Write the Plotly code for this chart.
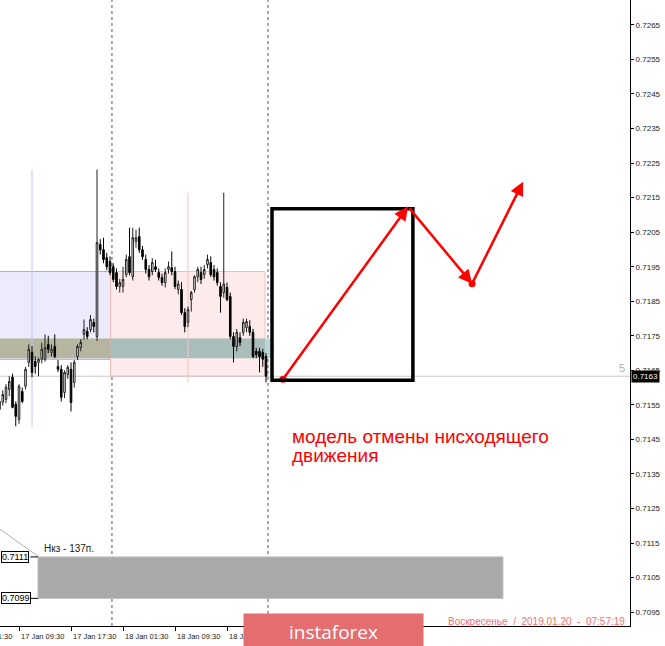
import plotly.graph_objects as go

# M30 bars, index 0 = 17 Jan 09:30
bars = list(range(-6, 77))

opens = [0.71537, 0.71558, 0.71566, 0.71595, 0.71630, 0.71552, 0.71508, 0.71589, 0.71604, 0.71673,
         0.71702, 0.71676, 0.71673, 0.71682, 0.71682, 0.71725, 0.71702, 0.71719, 0.71661, 0.71653,
         0.71586, 0.71638, 0.71653, 0.71615, 0.71690, 0.71716, 0.71754, 0.71763, 0.71768, 0.71789,
         0.71748, 0.72014, 0.71999, 0.71976, 0.71965, 0.71950, 0.71933, 0.71893, 0.71893, 0.71927,
         0.71979, 0.71921, 0.72023, 0.72037, 0.71999, 0.71971, 0.71942, 0.71936, 0.71950, 0.71933,
         0.71919, 0.71904, 0.71942, 0.71947, 0.71936, 0.71884, 0.71884, 0.71817, 0.71789, 0.71855,
         0.71884, 0.71921, 0.71933, 0.71927, 0.71956, 0.71962, 0.71942, 0.71933, 0.71893, 0.71875,
         0.71890, 0.71864, 0.71748, 0.71719, 0.71745, 0.71760, 0.71774, 0.71777, 0.71760, 0.71705,
         0.71705, 0.71702, 0.71690]
highs = [0.71572, 0.71592, 0.71610, 0.71633, 0.71640, 0.71560, 0.71610, 0.71600, 0.71660, 0.71725,
         0.71720, 0.71690, 0.71687, 0.71730, 0.71754, 0.71750, 0.71725, 0.71754, 0.71680, 0.71665,
         0.71650, 0.71665, 0.71673, 0.71680, 0.71725, 0.71740, 0.71797, 0.71775, 0.71810, 0.71800,
         0.72231, 0.72030, 0.72034, 0.71990, 0.71980, 0.71960, 0.71945, 0.71915, 0.71950, 0.71985,
         0.72063, 0.72063, 0.72057, 0.72063, 0.72010, 0.71985, 0.71955, 0.71975, 0.71970, 0.71945,
         0.71930, 0.71945, 0.71965, 0.71994, 0.71950, 0.71910, 0.71905, 0.71830, 0.71835, 0.71880,
         0.71925, 0.71950, 0.71950, 0.71955, 0.71985, 0.71980, 0.71955, 0.71945, 0.71905, 0.72164,
         0.71904, 0.71875, 0.71760, 0.71770, 0.71760, 0.71800, 0.71800, 0.71795, 0.71770, 0.71715,
         0.71715, 0.71712, 0.71700]
lows = [0.71531, 0.71548, 0.71555, 0.71575, 0.71540, 0.71488, 0.71495, 0.71555, 0.71595, 0.71660,
        0.71630, 0.71640, 0.71633, 0.71670, 0.71675, 0.71700, 0.71690, 0.71685, 0.71645, 0.71560,
        0.71570, 0.71625, 0.71531, 0.71600, 0.71680, 0.71705, 0.71739, 0.71740, 0.71760, 0.71760,
        0.71735, 0.71985, 0.71960, 0.71940, 0.71925, 0.71905, 0.71884, 0.71875, 0.71875, 0.71920,
        0.71925, 0.71910, 0.72005, 0.71990, 0.71970, 0.71930, 0.71910, 0.71925, 0.71935, 0.71910,
        0.71895, 0.71890, 0.71930, 0.71925, 0.71885, 0.71870, 0.71810, 0.71760, 0.71775, 0.71820,
        0.71875, 0.71905, 0.71900, 0.71915, 0.71945, 0.71920, 0.71910, 0.71895, 0.71817, 0.71860,
        0.71850, 0.71740, 0.71673, 0.71705, 0.71720, 0.71750, 0.71760, 0.71750, 0.71685, 0.71685,
        0.71644, 0.71660, 0.71615]
closes = [0.71560, 0.71580, 0.71601, 0.71618, 0.71543, 0.71517, 0.71604, 0.71560, 0.71653, 0.71711,
          0.71644, 0.71661, 0.71682, 0.71711, 0.71716, 0.71711, 0.71711, 0.71690, 0.71653, 0.71572,
          0.71644, 0.71659, 0.71557, 0.71673, 0.71719, 0.71731, 0.71768, 0.71748, 0.71797, 0.71777,
          0.72020, 0.71999, 0.71971, 0.71950, 0.71933, 0.71913, 0.71893, 0.71904, 0.71913, 0.71971,
          0.71933, 0.72034, 0.72034, 0.71999, 0.71979, 0.71942, 0.71921, 0.71962, 0.71942, 0.71919,
          0.71904, 0.71933, 0.71950, 0.71936, 0.71893, 0.71900, 0.71817, 0.71777, 0.71826, 0.71875,
          0.71921, 0.71942, 0.71913, 0.71942, 0.71971, 0.71927, 0.71921, 0.71904, 0.71864, 0.71900,
          0.71855, 0.71748, 0.71719, 0.71760, 0.71731, 0.71789, 0.71791, 0.71760, 0.71690, 0.71696,
          0.71690, 0.71682, 0.71633]

# axis labels
price_ticks = [round(0.7095 + 0.001 * i, 4) for i in range(18)]
time_tick_bars = [-16, 0, 16, 32, 48, 64]
time_tick_labels = ["17 Jan 01:30", "17 Jan 09:30", "17 Jan 17:30", "18 Jan 01:30",
                    "18 Jan 09:30", "18 Jan 17:30"]
day_breaks = [28.6, 76.6]

# levels / zones
bid = 0.71633
blue_zone = (0.71682, 0.71936)
pink_zone = (0.71633, 0.71936)
gray_band = (0.71685, 0.71742)
target_zone = (0.7099, 0.7111)
target_label = "Нкз - 137п."

# forecast drawing (bar, price)
box_bars = (77.85, 121.2)
box_prices = (0.71621, 0.72118)
path_bars = [81.2, 119.7, 139.4, 155.1]
path_prices = [0.71624, 0.72124, 0.71901, 0.72196]
note = ["модель отмены нисходящего", "движения"]
stamp = "Воскресенье  /  2019.01.20  -  07:57:19"

X_MIN, X_MAX = -5.85, 188
Y_MIN, Y_MAX = 0.70910, 0.72722

fig = go.Figure()

fig.add_trace(go.Candlestick(
    x=bars, open=opens, high=highs, low=lows, close=closes,
    increasing=dict(line=dict(color="#202020", width=1), fillcolor="white"),
    decreasing=dict(line=dict(color="#000000", width=1), fillcolor="black"),
    whiskerwidth=0, showlegend=False, hoverinfo="skip",
))

# red dots at the path vertices
fig.add_trace(go.Scatter(
    x=[path_bars[0], path_bars[2]], y=[path_prices[0], path_prices[2]],
    mode="markers", marker=dict(color="#ff0000", size=7), showlegend=False, hoverinfo="skip",
))

shapes = []
# zones drawn under the candles
shapes.append(dict(type="rect", layer="below", x0=-7, x1=28.15, y0=blue_zone[0], y1=blue_zone[1],
                   fillcolor="#ebebfd", line=dict(color="#a8a8f2", width=1)))
shapes.append(dict(type="rect", layer="below", x0=28.15, x1=75.7, y0=pink_zone[0], y1=pink_zone[1],
                   fillcolor="#fdebeb", line=dict(color="#f5b8b8", width=1)))
shapes.append(dict(type="rect", layer="below", x0=-7, x1=28.15, y0=gray_band[0], y1=gray_band[1],
                   fillcolor="#b6b5a0", line=dict(width=0)))
shapes.append(dict(type="rect", layer="below", x0=28.15, x1=75.7, y0=gray_band[0], y1=gray_band[1],
                   fillcolor="#a9bdba", line=dict(width=0)))
shapes.append(dict(type="rect", layer="below", x0=75.7, x1=77.85, y0=gray_band[0], y1=gray_band[1],
                   fillcolor="#b9d6d6", line=dict(width=0)))
shapes.append(dict(type="line", layer="below", x0=4, x1=4, y0=0.72231, y1=0.71485,
                   line=dict(color="#c4c4f6", width=1)))
shapes.append(dict(type="line", layer="below", x0=52, x1=52, y0=0.72164, y1=0.71615,
                   line=dict(color="#f6c4c4", width=1)))
shapes.append(dict(type="line", layer="below", x0=-7, x1=X_MAX + 1, y0=bid, y1=bid,
                   line=dict(color="#c8c8c8", width=1)))
shapes.append(dict(type="rect", layer="below", x0=5.85, x1=148.9, y0=target_zone[0], y1=target_zone[1],
                   fillcolor="#a9a9a9", line=dict(color="#bdbdbd", width=1)))
shapes.append(dict(type="line", layer="below", x0=-12, x1=5.85, y0=0.71231, y1=0.71112,
                   line=dict(color="#b0b0b0", width=1)))
for lvl in target_zone:
    shapes.append(dict(type="line", x0=3.5, x1=5.85, y0=lvl, y1=lvl, line=dict(color="black", width=1)))
for xb in day_breaks:
    shapes.append(dict(type="line", layer="below", x0=xb, x1=xb, yref="paper", y0=0, y1=1,
                       line=dict(color="#555555", width=1, dash="dot")))
# forecast box
shapes.append(dict(type="rect", x0=box_bars[0], x1=box_bars[1], y0=box_prices[0], y1=box_prices[1],
                   line=dict(color="black", width=3.5)))

annotations = []
# forecast arrows
for i in range(len(path_bars) - 1):
    annotations.append(dict(
        x=path_bars[i + 1], y=path_prices[i + 1], ax=path_bars[i], ay=path_prices[i],
        xref="x", yref="y", axref="x", ayref="y", text="", showarrow=True,
        arrowhead=2, arrowsize=1.1, arrowwidth=2.5, arrowcolor="#ff0000",
    ))
annotations.append(dict(x=83.5, y=0.71459, xref="x", yref="y", text=note[0], showarrow=False,
                        xanchor="left", yanchor="middle",
                        font=dict(family="Liberation Sans, Arial", size=19, color="#ff0000")))
annotations.append(dict(x=83.5, y=0.71404, xref="x", yref="y", text=note[1], showarrow=False,
                        xanchor="left", yanchor="middle",
                        font=dict(family="Liberation Sans, Arial", size=19, color="#ff0000")))
# target zone labels
annotations.append(dict(x=7.1, y=0.71135, xref="x", yref="y", text=target_label, showarrow=False,
                        xanchor="left", yanchor="middle",
                        font=dict(family="Liberation Sans, Arial", size=10, color="#222222")))
for lvl in target_zone:
    annotations.append(dict(x=0, y=lvl, xref="paper", yref="y", text=f"{lvl:.4f}", showarrow=False,
                            xanchor="left", yanchor="middle", xshift=1,
                            bgcolor="white", bordercolor="black", borderwidth=1, borderpad=0,
                            font=dict(family="Liberation Sans, Arial", size=9, color="black")))
# bid label on the price scale
annotations.append(dict(x=1, y=bid, xref="paper", yref="y", text=f"{bid:.4f}", showarrow=False,
                        xanchor="left", yanchor="middle", xshift=1, bgcolor="black", borderpad=1,
                        font=dict(family="Liberation Sans, Arial", size=8, color="white")))
annotations.append(dict(x=1, y=bid, xref="paper", yref="y", text="5", showarrow=False,
                        xanchor="right", yanchor="bottom", xshift=-3,
                        font=dict(family="Liberation Sans, Arial", size=11, color="#b0b0b0")))
# time labels, left-aligned at the tick like the terminal does (paper refs so the
# first one may hang off the left edge)
for b, lab in zip(time_tick_bars, time_tick_labels):
    annotations.append(dict(x=(b - X_MIN) / (X_MAX - X_MIN), y=0, xref="paper", yref="paper",
                            text=lab, showarrow=False, xanchor="left", yanchor="middle", yshift=-10,
                            font=dict(family="Liberation Sans, Arial", size=7.5, color="#222222")))
# watermark / logo
annotations.append(dict(x=0.5286, y=-0.008, xref="paper", yref="paper", text="instaforex",
                        showarrow=False, xanchor="center", yanchor="middle",
                        width=177, height=33, bgcolor="#e46d6f",
                        font=dict(family="Open Sans, Liberation Sans", size=19, color="white")))
annotations.append(dict(x=0.995, y=0.0064, xref="paper", yref="paper", text=stamp, showarrow=False,
                        xanchor="right", yanchor="middle",
                        font=dict(family="Liberation Sans, Arial", size=10, color="#ff6c6c")))

fig.update_layout(
    width=665, height=646,
    margin=dict(l=0, r=35, t=0, b=20),
    paper_bgcolor="white", plot_bgcolor="white",
    shapes=shapes, annotations=annotations,
    showlegend=False,
    xaxis=dict(range=[X_MIN, X_MAX], rangeslider=dict(visible=False), showgrid=False, zeroline=False,
               showline=True, linecolor="black", linewidth=1,
               tickmode="array", tickvals=time_tick_bars, ticks="outside", ticklen=4,
               tickcolor="black", showticklabels=False),
    yaxis=dict(range=[Y_MIN, Y_MAX], side="right", showgrid=False, zeroline=False,
               showline=True, linecolor="black", linewidth=1,
               tickmode="array", tickvals=price_ticks, ticktext=[f"{p:.4f}" for p in price_ticks],
               ticks="outside", ticklen=3, tickcolor="black",
               tickfont=dict(family="Liberation Sans, Arial", size=8, color="#222222")),
)

# the page body has a default 8px margin; drop it so the chart sits at the window corner
fig.write_html("out.html", config={"displayModeBar": False},
               post_script="document.body.style.margin='0';")
